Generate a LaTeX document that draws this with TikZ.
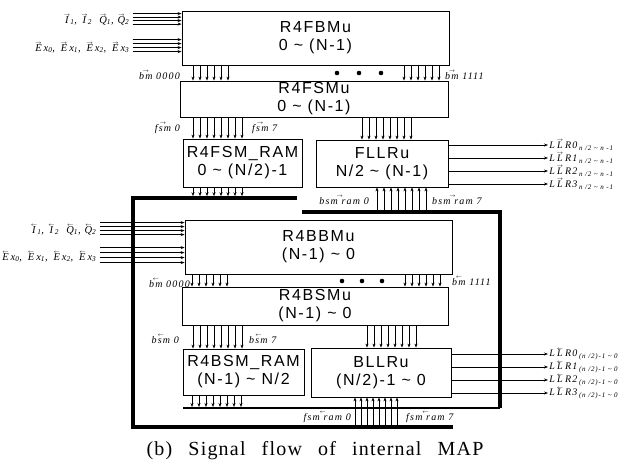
\documentclass[tikz,border=0pt]{standalone}
\usepackage{fontspec}
\newfontfamily\boxfont[LetterSpace=10]{Liberation Sans}
\newfontfamily\lblfont[LetterSpace=12]{Liberation Serif}
\newfontfamily\capfont[LetterSpace=6, WordSpace=2.6]{Liberation Serif}
\usetikzlibrary{arrows.meta, calc}

\newcommand{\fwdv}[1]{\leavevmode\vbox{\offinterlineskip\halign{\hfil##\hfil\cr\tiny$\rightarrow$\cr\noalign{\kern0.2pt}#1\cr}}}
\newcommand{\bwdv}[1]{\leavevmode\vbox{\offinterlineskip\halign{\hfil##\hfil\cr\tiny$\leftarrow$\cr\noalign{\kern0.2pt}#1\cr}}}

\begin{document}
\begin{tikzpicture}[x=1pt, y=-1pt, >={Stealth[length=4pt, width=3pt]},
  every node/.style={font=\lblfont\itshape\fontsize{10}{11}\selectfont, inner sep=1pt},
  unit/.style={draw, line width=0.8pt, align=center, inner sep=0pt, font=\boxfont\fontsize{16}{18}\selectfont},
  inlbl/.style={anchor=east, font=\lblfont\itshape\fontsize{10.5}{12}\selectfont},
  bus/.style={line width=3.6pt},
  sig/.style={->, line width=0.7pt}]
  \useasboundingbox (0,0) rectangle (630,468);

  % forward half
  \node[unit, minimum width=267, minimum height=54] (r4fbmu) at (315.5,38) {R4FBMu\\0 \textasciitilde{} (N-1)};
  \node[unit, minimum width=268, minimum height=36] (r4fsmu) at (314,99) {R4FSMu\\0 \textasciitilde{} (N-1)};
  \node[unit, minimum width=119, minimum height=48] (r4fsmram) at (242.5,163) {R4FSM\_RAM\\0 \textasciitilde{} (N/2)-1};
  \node[unit, minimum width=132, minimum height=47] (fllru) at (382,163.5) {FLLRu\\N/2 \textasciitilde{} (N-1)};

  % backward half
  \node[unit, minimum width=267, minimum height=54] (r4bbmu) at (318.5,247) {R4BBMu\\(N-1) \textasciitilde{} 0};
  \node[unit, minimum width=266, minimum height=38] (r4bsmu) at (315,306) {R4BSMu\\(N-1) \textasciitilde{} 0};
  \node[unit, minimum width=121, minimum height=46] (r4bsmram) at (243.5,372) {R4BSM\_RAM\\(N-1) \textasciitilde{} N/2};
  \node[unit, minimum width=140, minimum height=49] (bllru) at (381,372.5) {BLLRu\\(N/2)-1 \textasciitilde{} 0};

  % state metric buses
  \coordinate (fsmbus-e) at (297,198);
  \coordinate (fsmbus-nw) at (133,198);
  \coordinate (fsmbus-sw) at (133,427);
  \coordinate (fsmbus-se) at (453,427);
  \draw[bus] (fsmbus-e) -- (fsmbus-nw) -- (fsmbus-sw) -- (fsmbus-se);
  \coordinate (bsmbus-w) at (302,212);
  \coordinate (bsmbus-ne) at (500,212);
  \coordinate (bsmbus-se) at (500,408);
  \coordinate (bsmbus-sw) at (183,408);
  \draw[bus] (bsmbus-w) -- (bsmbus-ne) -- (bsmbus-se);
  \draw[line width=2pt] (bsmbus-se) -- (bsmbus-sw);

  % forward inputs
  \foreach \dy in {3,6.5,10,13.5,29,33,37,41}
    \draw[sig] ($(r4fbmu.north west)+(-49,\dy)$) -- ($(r4fbmu.north west)+(0,\dy)$);
  \node[inlbl] (inf-iq) at ($(r4fbmu.north west)+(-51,9)$) {\fwdv{I}\textsubscript{1}, \fwdv{I}\textsubscript{2}\,\, \fwdv{Q}\textsubscript{1}, \fwdv{Q}\textsubscript{2}};
  \node[inlbl] (inf-ex) at ($(r4fbmu.north west)+(-51,37)$) {\fwdv{E}\,x\textsubscript{0},\, \fwdv{E}\,x\textsubscript{1},\, \fwdv{E}\,x\textsubscript{2},\, \fwdv{E}\,x\textsubscript{3}};

  \foreach \x in {193,200,...,228,404,411,...,439}
    \draw[sig] (\x,0 |- r4fbmu.south) -- (\x,0 |- r4fsmu.north);
  \foreach \x in {337,359,381} \fill (\x,73) circle[radius=2.3pt];
  \node[anchor=east] (bmf-lo) at (181,75) {\fwdv{bm} 0000};
  \node[anchor=west] (bmf-hi) at (444,75) {\fwdv{bm} 1111};

  \foreach \x in {193,200,...,242}
    \draw[sig] (\x,0 |- r4fsmu.south) -- (\x,0 |- r4fsmram.north);
  \foreach \x in {362,369,...,411}
    \draw[sig] (\x,0 |- r4fsmu.south) -- (\x,0 |- fllru.north);
  \node[anchor=east] (fsm-lo) at (181,128) {\fwdv{fsm} 0};
  \node[anchor=west] (fsm-hi) at (251,128) {\fwdv{fsm} 7};

  \foreach \x in {193,200,...,242}
    \draw[sig, shorten >=1.8pt] (\x,0 |- r4fsmram.south) -- (\x,0 |- fsmbus-e);
  \foreach \x in {377,384,...,426}
    \draw[sig, shorten <=1.8pt] (\x,0 |- bsmbus-w) -- (\x,0 |- fllru.south);
  \node[anchor=east] (bsmram-lo) at (370,200) {\fwdv{bsm ram} 0};
  \node[anchor=west] (bsmram-hi) at (431,200) {\fwdv{bsm ram} 7};

  \foreach \i/\y in {0/145,1/158,2/171,3/184} {
    \coordinate (llrf\i) at (548,\y);
    \draw[sig] (fllru.east |- llrf\i) -- (llrf\i) node[right] (llrf\i-lbl) {L\,\fwdv{L}\,R\i\,\textsubscript{n /2 \textasciitilde\ n -1}};
  }

  % backward inputs
  \foreach \dy in {3,7,11,15,28,33,38,43}
    \draw[sig] ($(r4bbmu.north west)+(-85,\dy)$) -- ($(r4bbmu.north west)+(0,\dy)$);
  \node[inlbl] (inb-iq) at ($(r4bbmu.north west)+(-87,10)$) {\bwdv{I}\textsubscript{1}, \bwdv{I}\textsubscript{2}\,\, \bwdv{Q}\textsubscript{1}, \bwdv{Q}\textsubscript{2}};
  \node[inlbl] (inb-ex) at ($(r4bbmu.north west)+(-87,37)$) {\bwdv{E}\,x\textsubscript{0},\, \bwdv{E}\,x\textsubscript{1},\, \bwdv{E}\,x\textsubscript{2},\, \bwdv{E}\,x\textsubscript{3}};

  \foreach \x in {192,199,...,227,405,412,...,440}
    \draw[sig] (\x,0 |- r4bbmu.south) -- (\x,0 |- r4bsmu.north);
  \foreach \x in {342,362,382} \fill (\x,281) circle[radius=2.3pt];
  \node[anchor=east] (bmb-lo) at (191,283) {\bwdv{bm} 0000};
  \node[anchor=west] (bmb-hi) at (451,281) {\bwdv{bm} 1111};

  \foreach \x in {193,200,...,242}
    \draw[sig] (\x,0 |- r4bsmu.south) -- (\x,0 |- r4bsmram.north);
  \foreach \x in {367,374,...,416}
    \draw[sig] (\x,0 |- r4bsmu.south) -- (\x,0 |- bllru.north);
  \node[anchor=east] (bsm-lo) at (180,339) {\bwdv{bsm} 0};
  \node[anchor=west] (bsm-hi) at (248,339) {\bwdv{bsm} 7};

  \foreach \x in {192,199,...,241}
    \draw[sig, shorten >=1pt] (\x,0 |- r4bsmram.south) -- (\x,0 |- bsmbus-sw);
  \foreach \x in {355,361,...,397}
    \draw[sig, shorten <=1.8pt] (\x,0 |- fsmbus-se) -- (\x,0 |- bllru.south);
  \node[anchor=east] (fsmram-lo) at (352,417) {\bwdv{fsm ram} 0};
  \node[anchor=west] (fsmram-hi) at (405,417) {\bwdv{fsm ram} 7};

  \foreach \i/\y in {0/354,1/367,2/380,3/393} {
    \coordinate (llrb\i) at (548,\y);
    \draw[sig] (bllru.east |- llrb\i) -- (llrb\i) node[right] (llrb\i-lbl) {L\,\bwdv{L}\,R\i\,\textsubscript{(n /2)-1 \textasciitilde\ 0}};
  }

  \node[font=\capfont\fontsize{20}{24}\selectfont] (caption) at (315,451) {(b) Signal flow of internal MAP};
\end{tikzpicture}
\end{document}
